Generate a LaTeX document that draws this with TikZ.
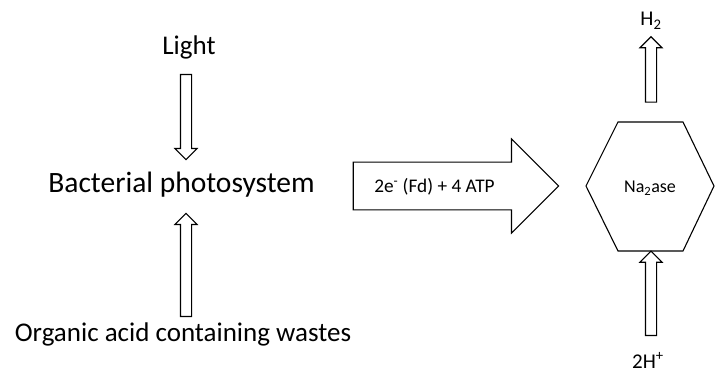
\documentclass[tikz,border=0pt]{standalone}
\usepackage{fontspec}
\setmainfont{Carlito}
\usetikzlibrary{shapes.arrows}

\begin{document}
\begin{tikzpicture}[x=1pt,y=-1pt,line width=1.1pt]
	\def \leftcol{186}
	\def \rightcol{651}
	\def \midline{186}
	\tikzstyle{big-label}=[font=\fontsize{27}{32}\selectfont,inner sep=0pt,anchor=base]
	\tikzstyle{small-label}=[font=\fontsize{18}{22}\selectfont,inner sep=0pt,anchor=base]
	\tikzstyle{ion-label}=[font=\fontsize{21}{25}\selectfont,inner sep=0pt,anchor=base]
	\tikzstyle{thin-arrow}=[single arrow,draw=black,inner sep=5pt,single arrow head extend=5.5pt,single arrow head indent=0pt,anchor=tail]
	\tikzstyle{fat-arrow}=[single arrow,draw=black,inner sep=23.3pt,single arrow head extend=23.2pt,single arrow head indent=0pt,anchor=tail]

	\useasboundingbox (0,0) rectangle (715,374);

	% left column
	\node[big-label] 	(light)	at (189,55)		{Light};
	\node[big-label,font=\fontsize{29.5}{34}\selectfont] 	(photo)	at (181.5,193)		{Bacterial photosystem};
	\node[big-label] 	(waste)	at (183,341)		{Organic acid containing wastes};

	\node[thin-arrow,minimum height=85pt,rotate=-90] 	(light-arrow)	at (\leftcol,74)	{};
	\node[thin-arrow,minimum height=103pt,rotate=90] 	(waste-arrow)	at (\leftcol,317)	{};

	% electron flow
	\node[fat-arrow,minimum height=205.3pt] 	(flow-arrow)	at (352.7,\midline)	{};
	\node[small-label,font=\fontsize{19.3}{23}\selectfont] 	(flow-label)	at (434.5,193)		{2e\textsuperscript{-} (Fd) + 4 ATP};

	% nitrogenase
	\draw (586,\midline) -- (618,122) -- (683,122) -- (714,\midline) -- (683,251) -- (618,251) -- cycle;
	\node[small-label] 	(nase)	at (650,193)		{Na\textsubscript{2}ase};

	\node[thin-arrow,minimum height=65.4pt,rotate=90] 	(h2-arrow)	at (\rightcol,102.7)	{};
	\node[thin-arrow,minimum height=84.3pt,rotate=90] 	(proton-arrow)	at (\rightcol,336)	{};
	\node[ion-label] 	(h2)	at (651,26)		{H\textsubscript{2}};
	\node[ion-label] 	(proton)	at (648,368)		{2H\textsuperscript{+}};
\end{tikzpicture}
\end{document}
